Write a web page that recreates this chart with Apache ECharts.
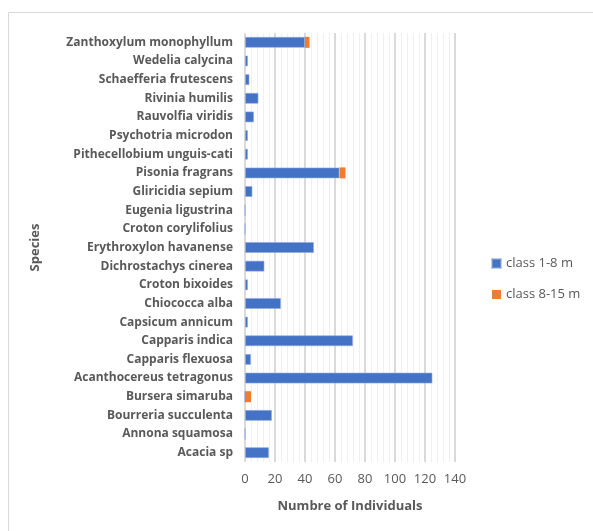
<!DOCTYPE html>
<html><head><meta charset="utf-8">
<script src="https://cdn.jsdelivr.net/npm/echarts@6/dist/echarts.min.js"></script>
<style>html,body{margin:0;padding:0;background:#fff}#c{width:593px;height:531px}</style>
</head><body><div id="c"></div>
<script>
const species = ["Zanthoxylum monophyllum","Wedelia calycina","Schaefferia frutescens","Rivinia humilis","Rauvolfia viridis","Psychotria microdon","Pithecellobium unguis-cati","Pisonia fragrans","Gliricidia sepium","Eugenia ligustrina","Croton corylifolius","Erythroxylon havanense","Dichrostachys cinerea","Croton bixoides","Chiococca alba","Capsicum annicum","Capparis indica","Capparis flexuosa","Acanthocereus tetragonus","Bursera simaruba","Bourreria succulenta","Annona squamosa","Acacia sp"];
const class1to8 = [40,2,3,9,6,2,2,63,5,0,0,46,13,2,24,2,72,4,125,0,18,0,16];
const class8to15 = [3,0,0,0,0,0,0,4,0,0,0,0,0,0,0,0,0,0,0,4,0,0,0];
const xTicks = {min:0, max:140, interval:20};
const seriesNames = ["class 1-8 m","class 8-15 m"];

const FONT = "Open Sans";
const chart = echarts.init(document.getElementById('c'), null, {renderer:'canvas'});
chart.setOption({
  animation:false,
  textStyle:{fontFamily:FONT},
  graphic:[{type:'rect', shape:{x:8.5,y:12.5,width:700,height:700}, style:{fill:null, stroke:'#d9d9d9', lineWidth:1}, silent:true, z:-10}],
  grid:{left:245, top:33, width:210, height:429},
  legend:{
    orient:'vertical', left:486, top:252, itemWidth:9, itemHeight:9, itemGap:18,
    icon:'rect', data:seriesNames,
    textStyle:{fontFamily:FONT, fontSize:13, color:'#595959'}
  },
  xAxis:{
    type:'value', min:xTicks.min, max:xTicks.max, interval:xTicks.interval,
    name:'Numbre of Individuals', nameLocation:'middle', nameGap:38,
    nameTextStyle:{fontFamily:FONT, fontSize:13, fontWeight:'bold', color:'#595959'},
    axisLine:{show:false}, axisTick:{show:false},
    axisLabel:{fontFamily:FONT, fontSize:13, color:'#595959', margin:11},
    splitLine:{show:true, lineStyle:{color:'#dadada', width:2}},
    minorTick:{show:false, splitNumber:5},
    minorSplitLine:{show:true, lineStyle:{color:'#f0f0f0', width:1}}
  },
  yAxis:{
    type:'category', data:species, inverse:true,
    name:'Species', nameLocation:'middle', nameGap:203, nameRotate:90,
    nameTextStyle:{fontFamily:FONT, fontSize:13, fontWeight:'bold', color:'#595959'},
    axisLine:{show:false}, axisTick:{show:false},
    axisLabel:{fontFamily:FONT, fontSize:12, fontWeight:'bold', color:'#595959', margin:12},
    splitLine:{show:false}
  },
  series:[
    {name:seriesNames[0], type:'bar', stack:'t', data:class1to8, barWidth:11,
     itemStyle:{color:'#4472C4', borderColor:'rgba(143,170,220,0.6)', borderWidth:1}},
    {name:seriesNames[1], type:'bar', stack:'t', data:class8to15, barWidth:11,
     itemStyle:{color:'#ED7D31', borderWidth:0}}
  ]
});
</script></body></html>
